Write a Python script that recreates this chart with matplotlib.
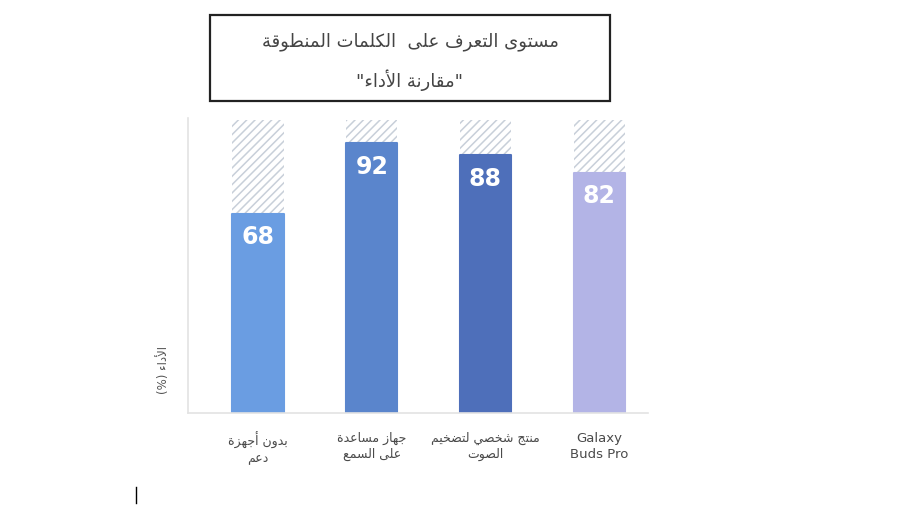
import matplotlib
matplotlib.use("Agg")
import matplotlib.pyplot as plt
from matplotlib.patches import Rectangle
from matplotlib.lines import Line2D

# --- data ---
categories = ["بدون أجهزة\nدعم", "جهاز مساعدة\nعلى السمع", "منتج شخصي لتضخيم\nالصوت", "Galaxy\nBuds Pro"]
values = [68, 92, 88, 82]
bar_colors = ["#6a9de2", "#5a85cc", "#4e6fba", "#b3b4e6"]
full_scale = 100
title_line1 = "مستوى التعرف على  الكلمات المنطوقة"
title_line2 = "\"مقارنة الأداء\""
ylabel_word = "الأداء"

# --- minimal arabic shaping (matplotlib has no RTL / joining support) ---
FORMS = {
    "ء": ("\uFE80",), "آ": ("\uFE81", "\uFE82"), "أ": ("\uFE83", "\uFE84"),
    "ؤ": ("\uFE85", "\uFE86"), "إ": ("\uFE87", "\uFE88"),
    "ئ": ("\uFE89", "\uFE8A", "\uFE8B", "\uFE8C"), "ا": ("\uFE8D", "\uFE8E"),
    "ب": ("\uFE8F", "\uFE90", "\uFE91", "\uFE92"), "ة": ("\uFE93", "\uFE94"),
    "ت": ("\uFE95", "\uFE96", "\uFE97", "\uFE98"), "ث": ("\uFE99", "\uFE9A", "\uFE9B", "\uFE9C"),
    "ج": ("\uFE9D", "\uFE9E", "\uFE9F", "\uFEA0"), "ح": ("\uFEA1", "\uFEA2", "\uFEA3", "\uFEA4"),
    "خ": ("\uFEA5", "\uFEA6", "\uFEA7", "\uFEA8"), "د": ("\uFEA9", "\uFEAA"),
    "ذ": ("\uFEAB", "\uFEAC"), "ر": ("\uFEAD", "\uFEAE"), "ز": ("\uFEAF", "\uFEB0"),
    "س": ("\uFEB1", "\uFEB2", "\uFEB3", "\uFEB4"), "ش": ("\uFEB5", "\uFEB6", "\uFEB7", "\uFEB8"),
    "ص": ("\uFEB9", "\uFEBA", "\uFEBB", "\uFEBC"), "ض": ("\uFEBD", "\uFEBE", "\uFEBF", "\uFEC0"),
    "ط": ("\uFEC1", "\uFEC2", "\uFEC3", "\uFEC4"), "ظ": ("\uFEC5", "\uFEC6", "\uFEC7", "\uFEC8"),
    "ع": ("\uFEC9", "\uFECA", "\uFECB", "\uFECC"), "غ": ("\uFECD", "\uFECE", "\uFECF", "\uFED0"),
    "ف": ("\uFED1", "\uFED2", "\uFED3", "\uFED4"), "ق": ("\uFED5", "\uFED6", "\uFED7", "\uFED8"),
    "ك": ("\uFED9", "\uFEDA", "\uFEDB", "\uFEDC"), "ل": ("\uFEDD", "\uFEDE", "\uFEDF", "\uFEE0"),
    "م": ("\uFEE1", "\uFEE2", "\uFEE3", "\uFEE4"), "ن": ("\uFEE5", "\uFEE6", "\uFEE7", "\uFEE8"),
    "ه": ("\uFEE9", "\uFEEA", "\uFEEB", "\uFEEC"), "و": ("\uFEED", "\uFEEE"),
    "ى": ("\uFEEF", "\uFEF0"), "ي": ("\uFEF1", "\uFEF2", "\uFEF3", "\uFEF4"),
}
LAM_ALEF = {"آ": ("\uFEF5", "\uFEF6"), "أ": ("\uFEF7", "\uFEF8"),
            "إ": ("\uFEF9", "\uFEFA"), "ا": ("\uFEFB", "\uFEFC")}


def joins_next(c):
    return c in FORMS and len(FORMS[c]) == 4


def shape(line):
    out = []
    i = 0
    n = len(line)
    while i < n:
        c = line[i]
        prev = line[i - 1] if i > 0 else ""
        if c not in FORMS:
            out.append(c)
            i += 1
            continue
        link_prev = joins_next(prev)
        if c == "ل" and i + 1 < n and line[i + 1] in LAM_ALEF:
            out.append(LAM_ALEF[line[i + 1]][1 if link_prev else 0])
            i += 2
            continue
        nxt = line[i + 1] if i + 1 < n else ""
        link_next = joins_next(c) and nxt in FORMS
        f = FORMS[c]
        if link_prev and link_next:
            g = f[3]
        elif link_prev:
            g = f[1]
        elif link_next:
            g = f[2]
        else:
            g = f[0]
        out.append(g)
        i += 1
    return "".join(reversed(out))


def ar(text):
    return "\n".join(shape(l) if any(ch in FORMS for ch in l) else l for l in text.split("\n"))


plt.rcParams["font.family"] = ["DejaVu Sans"]
plt.rcParams["hatch.linewidth"] = 1.1

W, H = 900, 507
fig = plt.figure(figsize=(9, 5.07), dpi=100)

def fx(px):
    return px / W

def fy(py):
    return 1 - py / H

ax = fig.add_axes([fx(188), fy(413), fx(648) - fx(188), fy(118) - fy(413)])
x = list(range(len(categories)))
bw = 0.45
ax.bar(x, [full_scale] * len(x), width=bw, color="white", edgecolor="#c8cfd9",
       hatch="////", linewidth=0)
ax.bar(x, values, width=bw, color=bar_colors, edgecolor=bar_colors, linewidth=1.5,
       joinstyle="round")
for xi, v in zip(x, values):
    ax.text(xi, v - 8, str(v), ha="center", va="center", color="white",
            fontsize=17, fontweight="bold")
ax.set_xlim(-0.616, 3.43)
ax.set_ylim(0, 100.7)
ax.set_xticks([])
ax.set_yticks([])
for s in ["top", "right"]:
    ax.spines[s].set_visible(False)
for s in ["left", "bottom"]:
    ax.spines[s].set_color("#e3e3e3")
    ax.spines[s].set_linewidth(1.2)

# category labels below the axis
centers_px = [258, 372, 485, 599]
for cx, lab in zip(centers_px, categories):
    is_ar = any(ch in FORMS for ch in lab)
    fig.text(fx(cx), fy(432), ar(lab), ha="center", va="top",
             fontsize=9 if is_ar else 9.5, color="#4a4a4a", linespacing=1.3)

# y label
fig.text(fx(163), fy(370), "(%) " + ar(ylabel_word), rotation=90, ha="center",
         va="center", fontsize=8.5, color="#555555")

# title box
fig.patches.append(Rectangle((fx(210), fy(101)), fx(610) - fx(210), fy(15) - fy(101),
                             transform=fig.transFigure, fill=False, edgecolor="#222222",
                             linewidth=1.6))
fig.text(fx(410), fy(42), ar(title_line1), ha="center", va="center", fontsize=13,
         color="#444444")
fig.text(fx(410), fy(80), ar(title_line2), ha="center", va="center", fontsize=13,
         color="#444444")

# stray text cursor mark
fig.lines.append(Line2D([fx(136), fx(136)], [fy(487), fy(503)], transform=fig.transFigure,
                        color="black", linewidth=1))

fig.savefig("out.png", dpi=100)
